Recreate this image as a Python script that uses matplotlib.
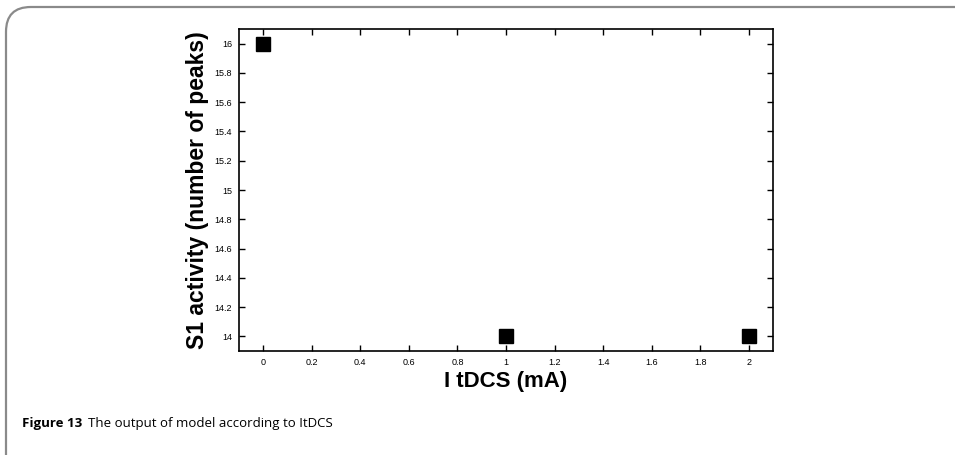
import matplotlib
matplotlib.use("Agg")
import matplotlib.pyplot as plt
from matplotlib.patches import FancyBboxPatch
import numpy as np

# data
itdcs = [0, 1, 2]
s1_activity = [16, 14, 14]
x_ticks = np.arange(0, 2.01, 0.2)
y_ticks = np.arange(14, 16.01, 0.2)

plt.rcParams['font.family'] = ['Liberation Sans', 'DejaVu Sans']

fig = plt.figure(figsize=(9.55, 4.55), dpi=100)

# rounded frame around the figure (right and bottom run off the page)
W, H = 955.0, 455.0
frame = FancyBboxPatch((6 / W, -40 / H), 1100 / W, (455 - 7 + 40) / H,
                       boxstyle="round,pad=0,rounding_size=0.026",
                       transform=fig.transFigure, fill=False,
                       edgecolor='#8a8a8a', linewidth=1.6, clip_on=False,
                       mutation_aspect=W / H)
fig.patches.append(frame)

ax = fig.add_axes([239 / W, 1 - 351 / H, 534 / W, 322 / H])
ax.plot(itdcs, s1_activity, 's', color='black', markersize=10)

ax.set_xlim(-0.1, 2.1)
ax.set_ylim(13.9, 16.1)
ax.set_xticks(x_ticks)
ax.set_yticks(y_ticks)
ax.set_xticklabels(['%g' % round(v, 1) for v in x_ticks])
ax.set_yticklabels(['%g' % round(v, 1) for v in y_ticks])
ax.tick_params(direction='in', top=True, right=True, length=4, width=1,
               labelsize=6.5, pad=5)
for s in ax.spines.values():
    s.set_linewidth(1.2)

ax.set_xlabel('I tDCS (mA)', fontsize=16, fontweight='bold', labelpad=3)
ax.set_ylabel('S1 activity (number of peaks)', fontsize=16.5,
              fontweight='bold', labelpad=4)

# caption
fig.text(22 / W, 1 - 423 / H, 'Figure 13', fontsize=9.5, fontweight='bold',
         family=['Open Sans', 'DejaVu Sans'], va='center', ha='left')
fig.text(88 / W, 1 - 423 / H, 'The output of model according to ItDCS',
         fontsize=9.5, family=['Open Sans', 'DejaVu Sans'], va='center',
         ha='left')

fig.savefig('out.png', dpi=100)
